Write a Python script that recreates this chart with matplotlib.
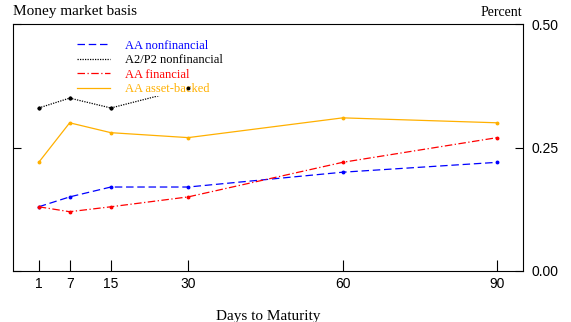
import numpy as np
import matplotlib.pyplot as plt

days = [1, 7, 15, 30, 60, 90]
aa_nonfin = [0.13, 0.15, 0.17, 0.17, 0.20, 0.22]
a2p2_days = [1, 7, 15, 30]
a2p2_nonfin = [0.33, 0.35, 0.33, 0.37]
aa_fin = [0.13, 0.12, 0.13, 0.15, 0.22, 0.27]
aa_abs = [0.22, 0.30, 0.28, 0.27, 0.31, 0.30]
yticks = [0.00, 0.25, 0.50]

serif = 'Liberation Serif'
sans = 'Liberation Sans'

fig = plt.figure(figsize=(5.71, 3.22), dpi=100)
ax = fig.add_axes([13 / 571, 51 / 322, 510 / 571, 247 / 322])

ax.plot(days, aa_nonfin, color='#0000ff', ls=(0, (6, 3)), lw=0.9,
        marker='o', ms=1.8, label='AA nonfinancial')
ax.plot(a2p2_days, a2p2_nonfin, color='black', ls=(0, (1, 1)), lw=0.9,
        marker='o', ms=1.8, label='A2/P2 nonfinancial')
ax.plot(days, aa_fin, color='#ff0000', ls=(0, (6, 2, 1, 2)), lw=0.9,
        marker='o', ms=1.8, label='AA financial')
ax.plot(days, aa_abs, color='#ffb000', ls='-', lw=0.9,
        marker='o', ms=1.8, label='AA asset-backed')
# keep the A2/P2 points visible above the legend box
ax.plot(a2p2_days, a2p2_nonfin, ls='none', marker='o', ms=1.8,
        color='black', zorder=6)

ax.set_xlim(-4, 95)
ax.set_ylim(0, 0.5)
ax.set_xticks(days)
ax.set_xticklabels([str(d) for d in days], fontfamily=sans, fontsize=10)
ax.set_yticks(yticks)
ax.set_yticklabels(['%.2f' % v for v in yticks], fontfamily=sans, fontsize=10)
ax.yaxis.tick_right()
ax.tick_params(axis='y', which='both', left=True, right=True, direction='in',
               length=6, width=0.8, pad=6)
ax.tick_params(axis='x', direction='in', length=8, width=0.8, pad=4)
for s in ax.spines.values():
    s.set_linewidth(0.8)

ax.set_xlabel('Days to Maturity', fontfamily=serif, fontsize=11, labelpad=14)
fig.text(13 / 571, 1 - 12 / 322, 'Money market basis', fontfamily=serif,
         fontsize=11, va='center', ha='left')
fig.text(522 / 571, 1 - 12 / 322, 'Percent', fontfamily=serif,
         fontsize=10, va='center', ha='right')

leg = ax.legend(loc='upper left', bbox_to_anchor=(0.11, 0.967), frameon=True,
                framealpha=1, edgecolor='none', fancybox=False,
                prop={'family': serif, 'size': 9}, handlelength=2.65,
                labelspacing=0.2, borderpad=0.1, handletextpad=1.2,
                markerscale=0)
for txt, line in zip(leg.get_texts(), leg.get_lines()):
    txt.set_color(line.get_color())

fig.savefig('out.png', dpi=100)
